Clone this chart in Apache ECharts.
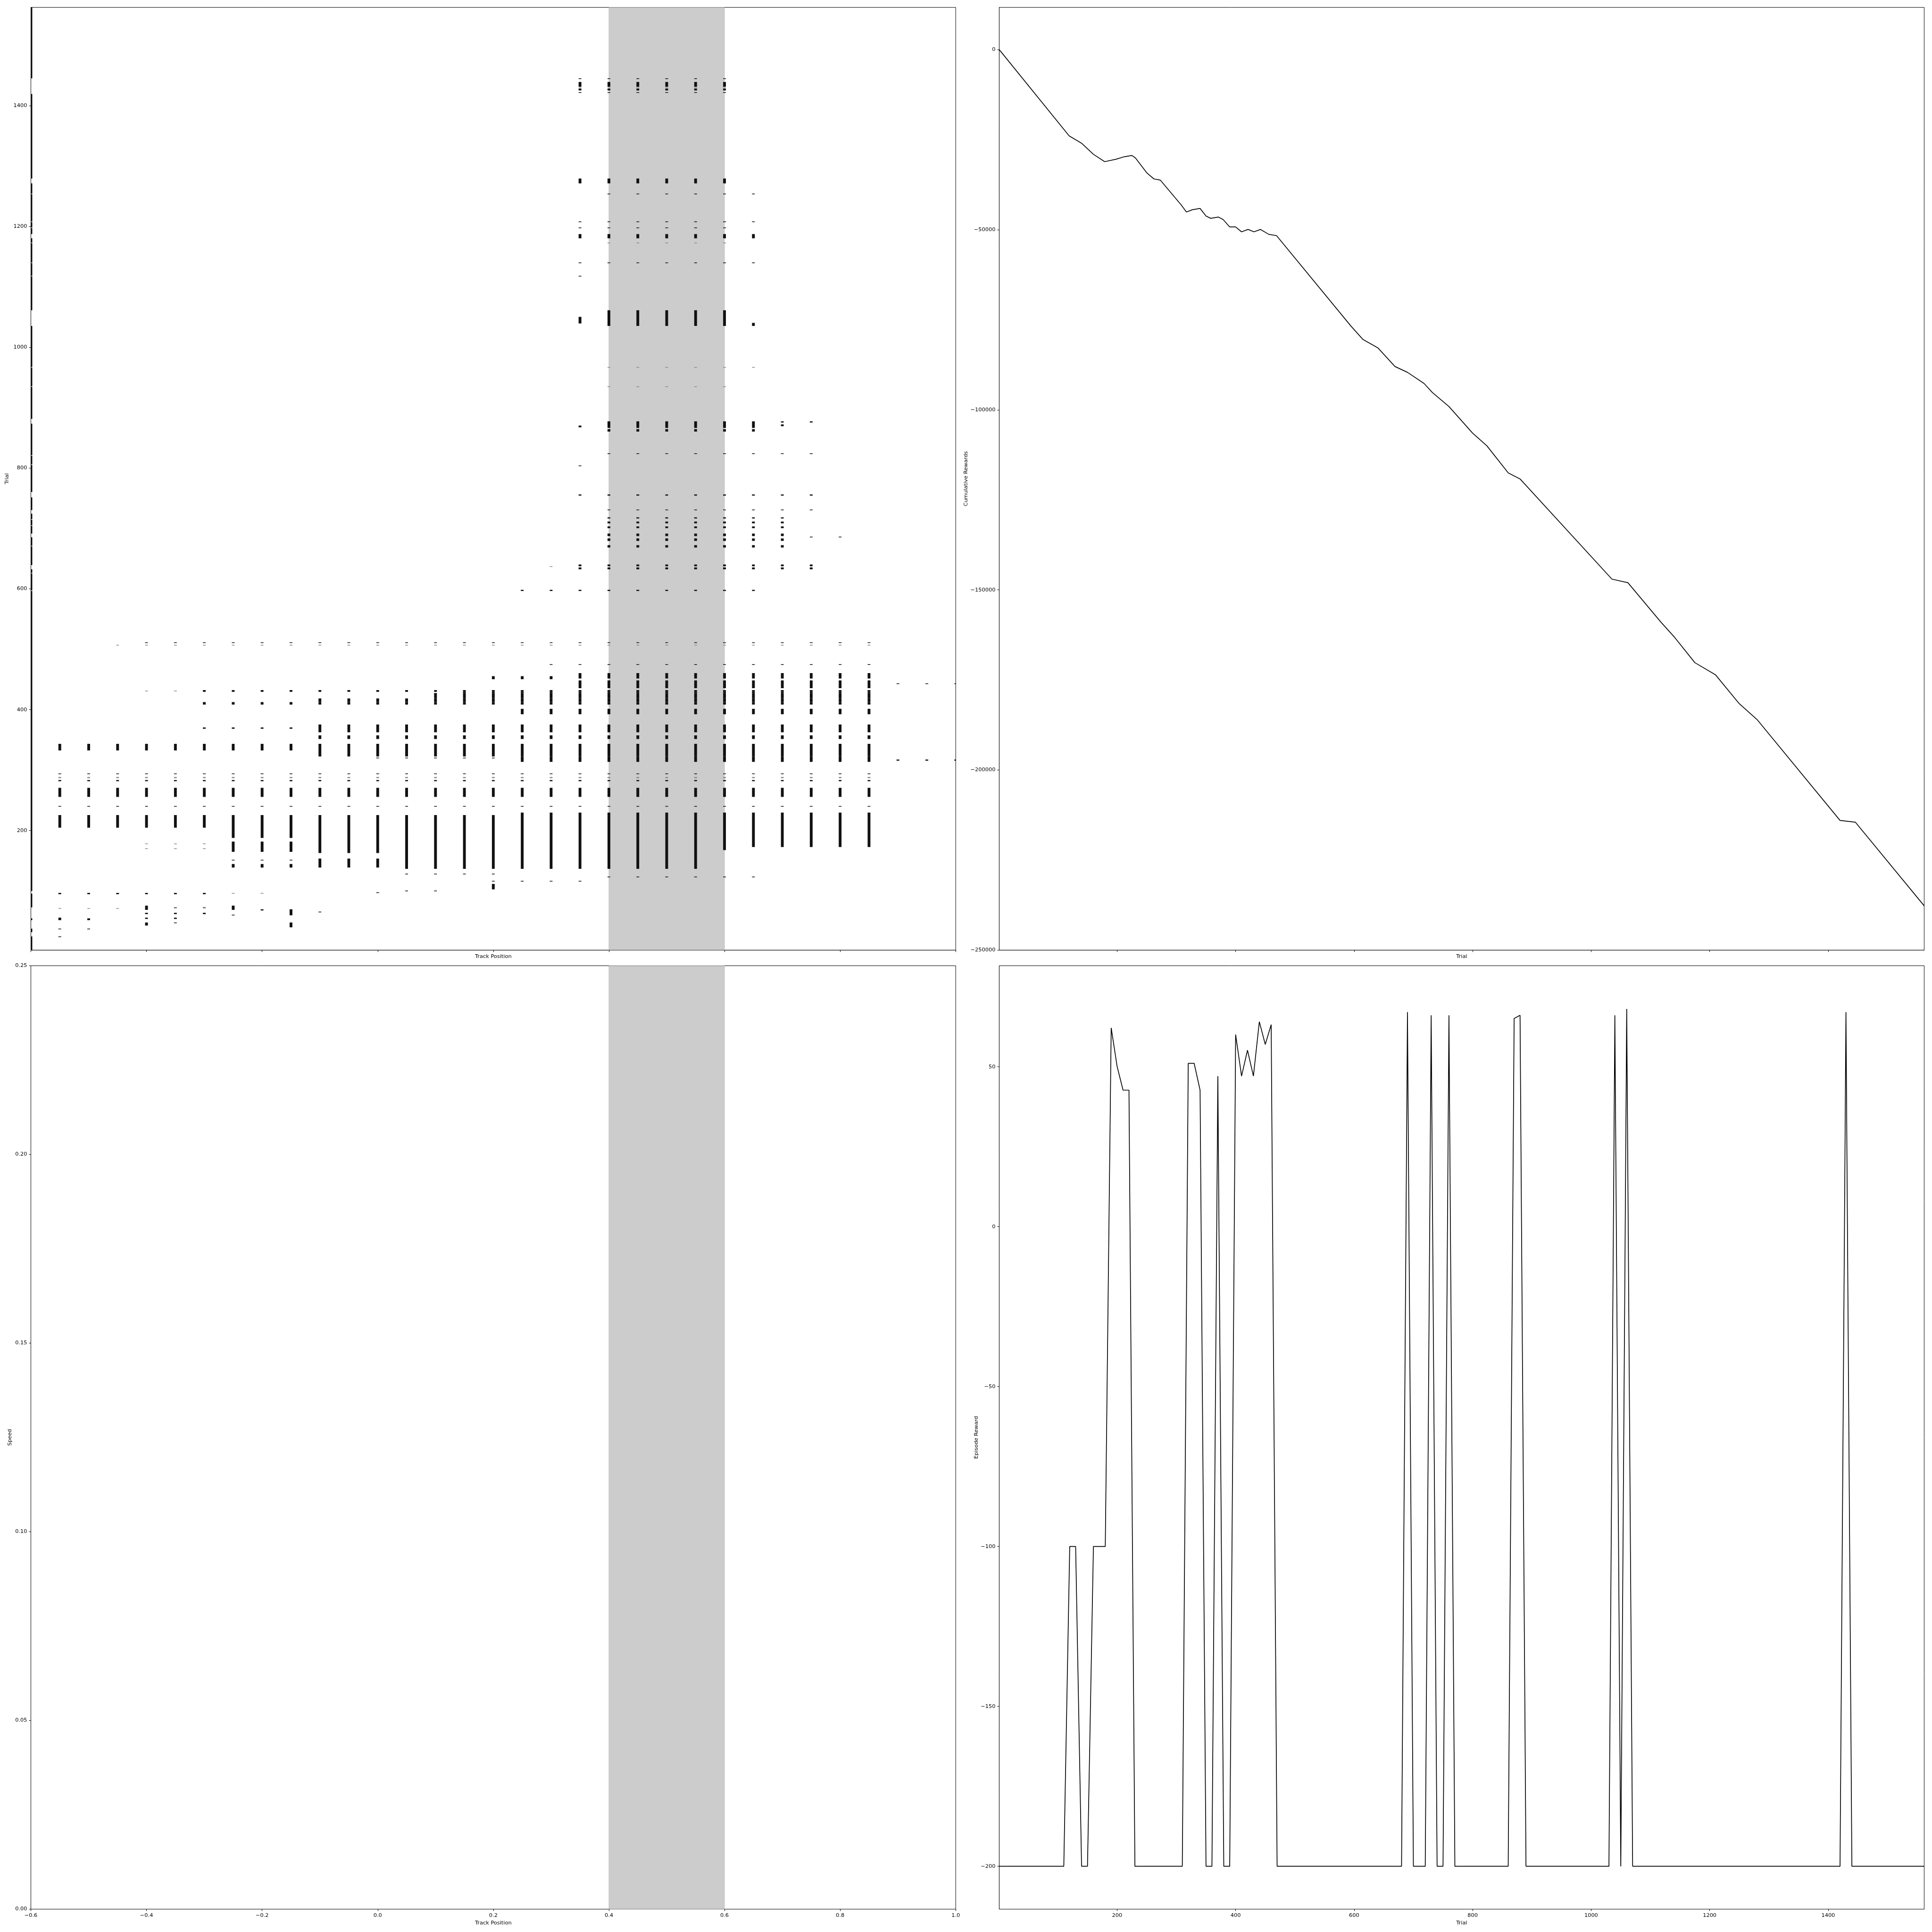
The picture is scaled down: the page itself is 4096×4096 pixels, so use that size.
<!DOCTYPE html>
<html><head><meta charset="utf-8">
<script src="https://cdn.jsdelivr.net/npm/echarts@6/dist/echarts.min.js"></script>
<style>html,body{margin:0;padding:0;background:#fff}#c{width:4096px;height:4096px}</style>
</head><body><div id="c"></div>
<script>
// ---------- data ----------
const trackPositions = [-0.6,-0.55,-0.5,-0.45,-0.4,-0.35,-0.3,-0.25,-0.2,-0.15,-0.1,-0.05,0,0.05,0.1,0.15,0.2,0.25,0.3,0.35,0.4,0.45,0.5,0.55,0.6,0.65,0.7,0.75,0.8,0.85,0.9,0.95,1.0];
const trackTicks = [-0.6,-0.4,-0.2,0,0.2,0.4,0.6,0.8,1.0];
const trialTicks = [200,400,600,800,1000,1200,1400];
const speedTicks = [0,0.05,0.1,0.15,0.2,0.25];
const cumTicks = [-250000,-200000,-150000,-100000,-50000,0];
const rewardTicks = [-200,-150,-100,-50,0,50];
const goalRegion = [0.4,0.6];

// trials at which a step was logged at track position -0.6 (runs: first, last)
const edgeRuns = [[1,24],[32,37],[52,54],[73,95],[100,596],[598,625],[627,632],[640,670],[672,685],[692,704],[706,714],[716,724],[731,751],[761,805],[807,820],[822,873],[882,934],[936,966],[968,1035],[1062,1117],[1119,1139],[1141,1172],[1174,1180],[1188,1197],[1199,1207],[1209,1253],[1255,1271],[1280,1419],[1446,1563]];

// [first trial, last trial, from position, to position, dark(1)/light(0)]
const positionBands = [
 [511,511,-0.4,0.85,1],[507,507,-0.45,0.85,0],
 [475,475,0.3,0.85,1],
 [451,455,0.2,0.3,1],[452,460,0.35,0.85,1],
 [443,443,0.9,1.0,1],
 [436,448,0.35,0.85,1],
 [430,432,-0.3,0.85,1],[431,431,-0.4,-0.35,0],
 [409,412,-0.3,0.85,1],[413,418,-0.1,0.85,1],[419,427,0.1,0.85,1],[428,429,0.15,0.85,1],
 [393,401,0.25,0.85,1],
 [369,370,-0.3,-0.15,1],[363,375,-0.1,0.85,1],
 [352,357,-0.1,0.85,1],
 [333,343,-0.55,0.85,1],[323,332,-0.1,0.85,1],[314,322,0.25,0.85,1],[320,320,0.0,0.2,1],[316,317,0.9,1.0,1],
 [294,294,-0.55,0.85,1],[287,288,-0.55,0.85,0],[282,283,-0.55,0.85,1],
 [256,270,-0.55,0.85,1],
 [240,240,-0.55,0.85,1],
 [205,225,-0.55,-0.3,1],[188,225,-0.25,-0.15,1],[165,181,-0.25,-0.15,1],[163,225,-0.1,0.0,1],
 [137,225,0.05,0.2,1],[137,229,0.25,0.55,1],[168,229,0.6,0.6,1],[173,229,0.65,0.85,1],
 [170,170,-0.4,-0.3,0],[178,178,-0.4,-0.3,0],
 [151,151,-0.25,-0.15,1],[139,144,-0.25,-0.15,1],[139,153,-0.1,0.0,1],[128,128,0.05,0.2,1],
 [116,116,0.2,0.35,1],[123,123,0.4,0.65,1],
 [95,96,-0.55,-0.3,1],[96,96,-0.25,-0.2,0],[97,97,0.0,0.0,1],[100,100,0.05,0.1,1],[103,111,0.2,0.2,1],
 [71,71,-0.55,-0.45,0],[69,75,-0.4,-0.4,1],[72,72,-0.35,-0.3,1],[69,75,-0.25,-0.25,1],[68,69,-0.2,-0.2,1],[60,69,-0.15,-0.15,1],[65,65,-0.1,-0.1,1],
 [52,55,-0.55,-0.55,1],[52,54,-0.5,-0.5,1],[62,63,-0.4,-0.3,1],[54,55,-0.4,-0.35,1],[43,47,-0.4,-0.4,1],[47,47,-0.35,-0.35,1],[60,60,-0.25,-0.25,1],[40,47,-0.15,-0.15,1],
 [37,37,-0.55,-0.5,1],[24,24,-0.55,-0.55,1],
 // successful phase
 [597,598,0.25,0.65,1],
 [637,637,0.3,0.3,0],[633,635,0.35,0.75,1],[638,640,0.35,0.75,1],
 [669,672,0.4,0.7,1],[680,683,0.4,0.7,1],[688,691,0.4,0.7,1],[686,686,0.75,0.8,1],
 [701,703,0.4,0.7,1],[709,711,0.4,0.7,1],[717,718,0.4,0.7,1],
 [731,731,0.4,0.75,1],
 [755,756,0.35,0.75,1],
 [804,804,0.35,0.35,1],
 [824,824,0.4,0.75,1],
 [861,864,0.4,0.65,1],[867,877,0.4,0.65,1],[868,870,0.35,0.35,1],[870,872,0.7,0.7,1],[876,877,0.7,0.75,1],
 [935,935,0.4,0.6,0],
 [967,967,0.4,0.65,0],
 [1036,1061,0.4,0.6,1],[1040,1050,0.35,0.35,1],[1036,1040,0.65,0.65,1],
 [1118,1118,0.35,0.35,1],
 [1140,1140,0.35,0.65,1],
 [1173,1173,0.4,0.6,0],
 [1181,1187,0.35,0.65,1],[1198,1198,0.35,0.6,1],[1208,1208,0.35,0.65,1],
 [1254,1254,0.4,0.65,1],
 [1272,1279,0.35,0.6,1],
 [1422,1422,0.35,0.6,1],[1426,1428,0.35,0.6,1],[1430,1430,0.35,0.6,0],[1432,1439,0.35,0.6,1],[1445,1445,0.35,0.6,1]
];

const cumTrials  = [1,119,140,160,179,198,212,225,231,250,262,273,308,317,327,340,350,358,371,379,390,400,410,421,431,442,456,469,595,615,640,669,690,718,732,760,800,824,860,880,1035,1062,1118,1141,1175,1210,1250,1280,1420,1446,1562];
const cumRewards = [0,-23940,-26000,-29070,-31120,-30440,-29750,-29400,-30100,-34200,-35900,-36250,-43100,-45100,-44460,-44100,-46200,-46850,-46500,-47200,-49250,-49250,-50600,-49930,-50600,-49930,-51300,-51640,-76840,-80500,-82800,-88000,-89600,-92700,-95200,-99100,-106500,-110000,-117500,-119200,-147000,-148000,-159000,-163200,-170200,-173600,-181600,-186000,-214000,-214500,-237700];

const epTrials  = [1,110,120,130,140,150,160,170,180,190,200,210,220,230,310,320,330,340,350,360,370,380,390,400,410,420,430,440,450,460,470,680,690,700,720,730,740,750,760,770,860,870,880,890,1030,1040,1050,1060,1070,1420,1430,1440,1562];
const epRewards = [-200,-200,-100,-100,-200,-200,-100,-100,-100,62.2,50.1,42.7,42.7,-200,-200,51.1,51.1,42.7,-200,-200,47.1,-200,-200,60.1,47.1,55.2,47.1,64.1,57,63.2,-200,-200,67.1,-200,-200,66.1,-200,-200,66.1,-200,-200,65.1,66.1,-200,-200,66.1,-200,68.1,-200,-200,67.1,-200,-200];

// ---------- build ----------
const bandItems = [];
positionBands.forEach(b => {
  trackPositions.forEach(p => {
    if (p >= b[2] - 1e-9 && p <= b[3] + 1e-9) bandItems.push([p, b[0], b[1], b[4]]);
  });
});
edgeRuns.forEach(r => bandItems.push([trackPositions[0], r[0], r[1], 1]));

const S = 0.819;
const FONT = 'DejaVu Sans';
const FS = 10 * 1.389 * S;
const minus = v => String(v).replace('-', '\u2212');

function axis(o) {
  return {
    type: 'value', gridIndex: o.grid, min: o.min, max: o.max,
    name: o.name, nameLocation: 'middle', nameGap: o.nameGap,
    nameTextStyle: {fontFamily: FONT, fontSize: FS, color: '#000'},
    axisLine: {show: true, onZero: false, lineStyle: {color: '#000', width: 1}},
    axisTick: {show: true, inside: false, length: 4, lineStyle: {color: '#000', width: 1}, customValues: o.ticks},
    axisLabel: {show: o.labels, margin: 8, fontFamily: FONT, fontSize: FS, color: '#000', customValues: o.ticks, formatter: o.fmt, hideOverlap: false},
    splitLine: {show: false}
  };
}
const G = [
  {left: 65.5, top: 15.6, width: 1960.7, height: 1998.7},
  {left: 2118.4, top: 15.6, width: 1961, height: 1998.7},
  {left: 65.5, top: 2047.5, width: 1960.7, height: 2000},
  {left: 2118.4, top: 2047.5, width: 1961, height: 2000}
].map(g => Object.assign({show: true, borderColor: '#000', borderWidth: 1, backgroundColor: 'transparent', containLabel: false}, g));

const fmtTrack = v => minus(v.toFixed(1));
const fmtInt = v => minus(Math.round(v));
const fmtSpeed = v => v.toFixed(2);

const option = {
  animation: false,
  backgroundColor: '#fff',
  grid: G,
  xAxis: [
    axis({grid: 0, min: -0.6, max: 1.0, ticks: trackTicks, labels: false, name: 'Track Position', nameGap: 8.6, fmt: fmtTrack}),
    axis({grid: 1, min: 1, max: 1562, ticks: trialTicks, labels: false, name: 'Trial', nameGap: 8.6, fmt: fmtInt}),
    axis({grid: 2, min: -0.6, max: 1.0, ticks: trackTicks, labels: true, name: 'Track Position', nameGap: 24, fmt: fmtTrack}),
    axis({grid: 3, min: 1, max: 1562, ticks: trialTicks, labels: true, name: 'Trial', nameGap: 24, fmt: fmtInt})
  ],
  yAxis: [
    axis({grid: 0, min: 1.85, max: 1563, ticks: trialTicks, labels: true, name: 'Trial', nameGap: 45, fmt: fmtInt}),
    axis({grid: 1, min: -250000, max: 11720, ticks: cumTicks, labels: true, name: 'Cumulative Rewards', nameGap: 62, fmt: fmtInt}),
    axis({grid: 2, min: 0, max: 0.25, ticks: speedTicks, labels: true, name: 'Speed', nameGap: 39, fmt: fmtSpeed}),
    axis({grid: 3, min: -213.4, max: 81.6, ticks: rewardTicks, labels: true, name: 'Episode Reward', nameGap: 42, fmt: fmtInt})
  ],
  series: [
    {type: 'custom', xAxisIndex: 0, yAxisIndex: 0, z: 1, clip: true, data: [goalRegion], silent: true,
     renderItem: (params, api) => {
       const a = api.coord([api.value(0), 500]), b = api.coord([api.value(1), 500]);
       const cs = params.coordSys;
       return {type: 'rect', shape: {x: a[0], y: cs.y, width: b[0] - a[0], height: cs.height}, style: {fill: '#cccccc', stroke: '#c2c2c2', lineWidth: 1}};
     }},
    {type: 'custom', xAxisIndex: 2, yAxisIndex: 2, z: 1, clip: true, data: [goalRegion], silent: true,
     renderItem: (params, api) => {
       const a = api.coord([api.value(0), 0.1]), b = api.coord([api.value(1), 0.1]);
       const cs = params.coordSys;
       return {type: 'rect', shape: {x: a[0], y: cs.y, width: b[0] - a[0], height: cs.height}, style: {fill: '#cccccc', stroke: '#c2c2c2', lineWidth: 1}};
     }},
    {type: 'custom', xAxisIndex: 0, yAxisIndex: 0, z: 2, clip: true, data: bandItems, silent: true,
     renderItem: (params, api) => {
       const x = api.value(0), t0 = api.value(1), t1 = api.value(2), dark = api.value(3);
       const top = api.coord([x, t1 + 0.5]), bot = api.coord([x, t0 - 0.5]);
       const w = 5.9;
       const h = Math.max(bot[1] - top[1], 1.5);
       return {type: 'rect', shape: {x: top[0] - w / 2, y: top[1], width: w, height: h}, style: {fill: dark ? '#111111' : '#8a8a8a'}};
     }},
    {type: 'line', xAxisIndex: 1, yAxisIndex: 1, showSymbol: false, symbol: 'none', silent: true,
     data: cumTrials.map((t, i) => [t, cumRewards[i]]), lineStyle: {color: '#000', width: 1.7}},
    {type: 'line', xAxisIndex: 3, yAxisIndex: 3, showSymbol: false, symbol: 'none', silent: true,
     data: epTrials.map((t, i) => [t, epRewards[i]]), lineStyle: {color: '#000', width: 1.7}}
  ]
};
const chart = echarts.init(document.getElementById('c'), null, {renderer: 'canvas'});
chart.setOption(option);
</script></body></html>
